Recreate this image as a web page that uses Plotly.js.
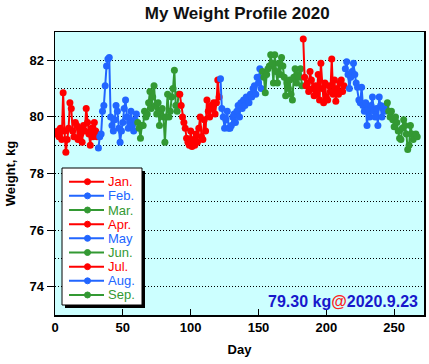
<!DOCTYPE html>
<html>
<head>
<meta charset="utf-8">
<script src="https://cdn.plot.ly/plotly-3.0.1.min.js"></script>
<style>html,body{margin:0;padding:0;background:#fff;}#chart{width:429px;height:364px;}</style>
</head>
<body>
<div id="chart"></div>
<script>
// Month labels and colours
const monthNames = ["Jan.", "Feb.", "Mar.", "Apr.", "May", "Jun.", "Jul.", "Aug.", "Sep."];
const monthColors = ["#ff0000", "#2266ff", "#339933", "#ff0000", "#2266ff", "#339933", "#ff0000", "#2266ff", "#339933"];
// First day-of-year of each month (2020, leap year)
const monthFirstDay = [1, 32, 61, 92, 122, 153, 183, 214, 245];

// Daily weights, kg
const jan = [79.4,79.5,79.3,79.6,79.2,80.85,79.5,78.75,79.2,79.6,80.5,80.3,79.5,79.3,79.8,79.7,79.2,79.6,79.4,79.1,79.7,79.5,80.3,79.8,79.4,79.0,79.6,79.3,79.8,79.5,79.3];
const feb = [78.9,79.3,79.4,80.2,80.4,81.1,81.8,82.05,82.1,80.0,79.7,79.5,79.9,80.4,80.2,79.6,79.1,79.5,79.8,80.3,80.6,80.0,79.6,79.8,80.2,79.7,79.5,79.9,80.1];
const mar = [79.8,79.6,79.25,79.7,79.7,80.2,80.0,80.1,80.5,80.9,80.3,80.7,81.1,80.4,80.1,80.5,79.7,80.2,80.3,80.0,79.1,80.0,80.8,80.0,80.2,80.7,81.0,81.65,80.4,80.2,80.8];
const apr = [80.8,80.4,80.0,79.8,79.6,79.25,79.1,79.0,79.5,78.95,79.2,79.0,79.4,79.1,79.6,80.0,79.3,79.2,79.9,79.5,80.6,80.2,80.0,80.4,80.3,80.5,80.1,80.5,81.3,80.7];
const may = [81.35,80.3,80.0,79.6,79.9,80.2,79.6,79.6,79.7,80.0,80.1,79.8,80.2,80.4,80.0,80.5,80.3,80.6,80.4,80.7,80.6,80.5,80.8,80.7,81.0,81.1,80.8,81.4,81.2,81.7,81.0];
const jun = [81.6,81.4,80.85,81.5,81.7,81.8,82.2,81.9,81.2,82.2,81.6,81.2,81.9,81.5,82.1,81.8,81.4,80.75,81.2,81.0,81.3,80.8,80.6,81.4,81.7,81.2,81.5,81.4,81.7,81.1];
const jul = [82.75,81.4,81.1,81.2,80.9,81.6,81.3,81.0,80.75,81.1,80.8,81.5,80.6,81.9,81.0,80.5,81.2,80.7,80.6,81.1,80.9,82.05,80.8,81.3,80.55,81.0,80.8,81.2,81.3,80.9,81.1];
const aug = [81.7,81.95,81.5,81.0,81.4,81.6,81.9,81.5,81.2,81.05,80.6,80.5,81.05,80.4,80.2,80.5,79.7,80.3,80.0,80.4,80.7,80.2,80.0,80.3,79.7,80.7,80.4,80.0,80.3,80.2,80.4];
const sep = [80.5,80.2,80.0,80.2,79.9,79.65,80.0,79.8,79.5,79.25,79.2,79.6,79.9,79.7,79.4,78.85,79.0,79.7,79.4,79.2,79.3,79.4,79.3];

const monthData = [jan, feb, mar, apr, may, jun, jul, aug, sep];
const lastDateText = "2020.9.23";

const font = "Liberation Sans, Arial, Helvetica, sans-serif";

const traces = monthData.map((w, i) => ({
  type: "scatter",
  mode: "lines+markers",
  x: w.map((_, k) => monthFirstDay[i] + k),
  y: w,
  name: monthNames[i],
  line: {color: monthColors[i], width: 2},
  marker: {color: monthColors[i], size: 7},
  showlegend: false,
  hoverinfo: "x+y"
}));

// plot area in pixels
const L = 55, R = 424, T = 32, B = 315;
const px = v => (v - L) / (R - L);
const py = v => (B - v) / (B - T);

const shapes = [];
const annotations = [];
// custom legend box with shadow
shapes.push({type: "rect", xref: "paper", yref: "paper", x0: px(65), x1: px(145), y0: py(171), y1: py(308), fillcolor: "#000", line: {width: 0}, layer: "above"});
shapes.push({type: "rect", xref: "paper", yref: "paper", x0: px(62), x1: px(142), y0: py(168), y1: py(305), fillcolor: "#fff", line: {color: "#000", width: 1}, layer: "above"});
monthNames.forEach((n, i) => {
  const yy = 181.7 + i * 14.16;
  shapes.push({type: "line", xref: "paper", yref: "paper", x0: px(69), x1: px(104), y0: py(yy), y1: py(yy), line: {color: monthColors[i], width: 2}, layer: "above"});
  shapes.push({type: "circle", xref: "paper", yref: "paper", x0: px(84.5), x1: px(90.5), y0: py(yy - 3), y1: py(yy + 3), fillcolor: monthColors[i], line: {color: monthColors[i], width: 1}, layer: "above"});
  annotations.push({xref: "paper", yref: "paper", x: px(106), y: py(yy), xanchor: "left", yanchor: "middle", showarrow: false, text: n, font: {family: font, size: 13, color: monthColors[i]}});
});

const lastVal = sep[sep.length - 1];
annotations.push({
  xref: "paper", yref: "paper", x: px(420), y: py(301), xanchor: "right", yanchor: "middle", showarrow: false,
  text: lastVal.toFixed(2) + ' kg<span style="color:#ff2222">@</span>' + lastDateText,
  font: {family: font, size: 16, color: "#1818cc", weight: "bold"}
});

const layout = {
  width: 429, height: 364,
  margin: {l: L, r: 429 - R, t: T, b: 364 - B, pad: 0},
  paper_bgcolor: "#ffffff",
  plot_bgcolor: "#ccffff",
  font: {family: font, size: 13, color: "#000"},
  title: {text: "<b>My Weight Profile 2020</b>", x: 0.553, xanchor: "center", y: 0.963, yanchor: "middle", font: {family: font, size: 17, color: "#111"}},
  xaxis: {
    range: [0, 272], dtick: 50, tick0: 0, ticks: "inside", ticklen: 6, tickcolor: "#000",
    showline: true, mirror: true, linecolor: "#000", linewidth: 1.5, showgrid: false, zeroline: false,
    tickfont: {family: font, size: 13, weight: "bold"},
    title: {text: "<b>Day</b>", font: {family: font, size: 13}, standoff: 11}
  },
  yaxis: {
    range: [73, 83], dtick: 2, tick0: 74, ticks: "outside", ticklen: 7, tickcolor: "#000",
    showline: true, mirror: true, linecolor: "#000", linewidth: 1.5, zeroline: false,
    showgrid: true, gridcolor: "#000", gridwidth: 1, griddash: "1px,2px",
    minor: {dtick: 1, showgrid: true, gridcolor: "#000", gridwidth: 1, griddash: "1px,2px", ticks: ""},
    tickfont: {family: font, size: 13, weight: "bold"},
    title: {text: "<b>Weight, kg</b>", font: {family: font, size: 13}, standoff: 11}
  },
  shapes: shapes,
  annotations: annotations,
  showlegend: false
};

Plotly.newPlot("chart", traces, layout, {displayModeBar: false, staticPlot: true});
</script>
</body>
</html>
